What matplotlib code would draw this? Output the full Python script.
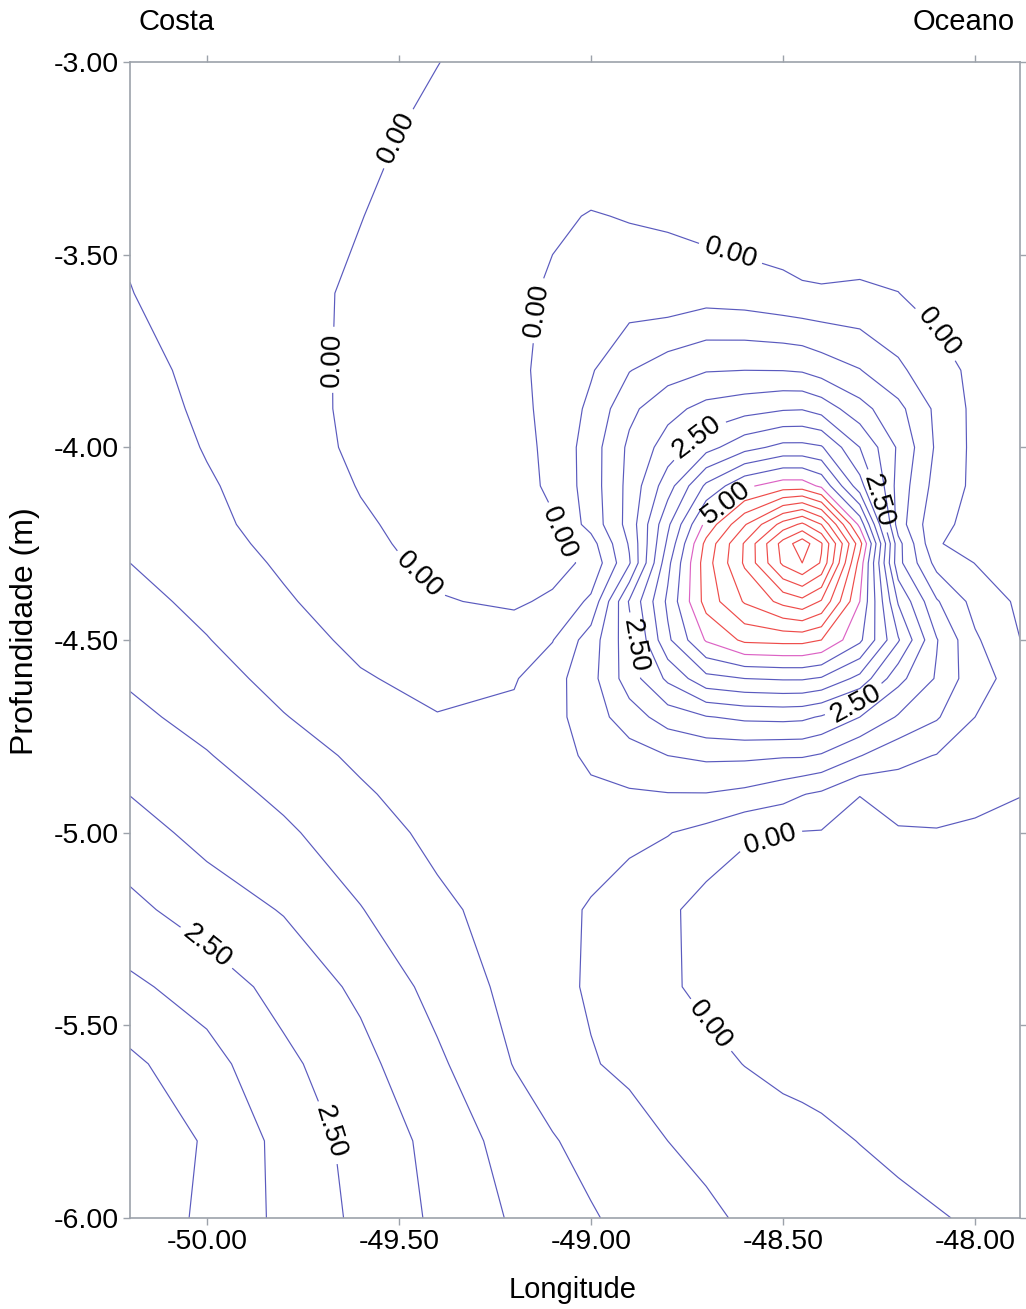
import numpy as np
import matplotlib
matplotlib.use("Agg")
import matplotlib.pyplot as plt

plt.rcParams['font.family'] = ['Liberation Sans', 'DejaVu Sans']

lon = [-50.2, -50.0, -49.8, -49.6, -49.4, -49.2, -49.1, -49.0, -48.9, -48.8,
       -48.7, -48.6, -48.5, -48.45, -48.4, -48.3, -48.2, -48.1, -48.0, -47.88]
depth = [-3.0, -3.2, -3.4, -3.6, -3.8, -3.9, -4.0, -4.1, -4.2, -4.25, -4.3,
         -4.4, -4.5, -4.6, -4.7, -4.8, -4.9, -5.0, -5.2, -5.4, -5.6, -5.8, -6.0]

# One row per depth (top to bottom), one value per longitude (left to right)
row_300 = [0.39, 0.29, 0.19, 0.10, 0.005, -0.12, -0.18, -0.20, -0.22, -0.24, -0.26, -0.27, -0.28, -0.285, -0.29, -0.30, -0.30, -0.30, -0.30, -0.30]
row_320 = [0.41, 0.29, 0.17, 0.06, -0.07, -0.18, -0.22, -0.24, -0.26, -0.28, -0.29, -0.30, -0.30, -0.30, -0.30, -0.30, -0.30, -0.30, -0.30, -0.30]
row_340 = [0.44, 0.30, 0.15, 0.01, -0.20, -0.15, -0.06, 0.02, -0.02, -0.04, -0.17, -0.26, -0.23, -0.20, -0.22, -0.23, -0.25, -0.28, -0.29, -0.30]
row_360 = [0.51, 0.32, 0.14, -0.07, -0.30, -0.10, 0.06, 0.20, 0.20, 0.15, 0.27, 0.22, 0.10, 0.04, 0.03, 0.05, 0.005, -0.15, -0.27, -0.30]
row_380 = [0.66, 0.37, 0.14, -0.08, -0.28, -0.12, 0.16, 0.45, 0.98, 1.27, 1.47, 1.50, 1.49, 1.45, 1.29, 1.02, 0.60, 0.17, -0.10, -0.22]
row_390 = [0.73, 0.41, 0.16, -0.09, -0.27, -0.12, 0.12, 0.61, 1.38, 1.84, 2.16, 2.31, 2.45, 2.47, 2.30, 1.68, 1.14, 0.39, -0.12, -0.22]
row_400 = [0.80, 0.47, 0.20, -0.08, -0.25, -0.12, 0.08, 0.76, 1.60, 2.22, 2.82, 3.33, 3.64, 3.64, 3.55, 2.50, 1.43, 0.42, -0.12, -0.22]
row_410 = [0.87, 0.55, 0.26, -0.02, -0.20, -0.15, 0.07, 0.75, 1.65, 2.77, 4.10, 4.90, 5.25, 5.25, 4.90, 3.20, 1.30, 0.30, -0.10, -0.22]
row_420 = [0.94, 0.60, 0.34, 0.05, -0.15, -0.10, -0.04, 0.68, 1.68, 3.40, 5.15, 6.45, 7.70, 8.10, 7.50, 4.85, 1.25, 0.07, -0.08, -0.20]
row_425 = [0.97, 0.66, 0.38, 0.09, -0.13, -0.12, -0.15, 0.30, 1.55, 3.60, 5.65, 7.05, 8.70, 9.30, 8.55, 5.70, 1.67, 0.01, -0.05, -0.18]
row_430 = [1.00, 0.72, 0.44, 0.15, -0.10, -0.12, -0.15, 0.10, 1.45, 3.86, 5.78, 7.07, 8.60, 9.00, 8.45, 5.30, 1.65, 0.33, -0.01, -0.15]
row_440 = [1.16, 0.87, 0.55, 0.28, 0.03, -0.06, 0.07, 0.60, 2.55, 4.10, 5.70, 6.55, 7.15, 7.35, 6.95, 5.00, 2.45, 1.05, 0.33, -0.10]
row_450 = [1.30, 1.02, 0.68, 0.40, 0.21, 0.21, 0.48, 1.25, 2.30, 3.90, 5.05, 5.60, 5.65, 5.65, 5.50, 4.60, 3.05, 1.53, 0.57, -0.01]
row_460 = [1.44, 1.17, 0.86, 0.54, 0.37, 0.46, 0.81, 1.33, 2.25, 3.10, 3.85, 4.00, 4.05, 4.05, 3.95, 3.35, 2.15, 1.45, 0.67, 0.30]
row_470 = [1.62, 1.33, 1.02, 0.75, 0.52, 0.60, 0.85, 1.25, 1.77, 2.22, 2.47, 2.60, 2.63, 2.60, 2.45, 2.00, 1.45, 1.05, 0.50, 0.30]
row_480 = [1.80, 1.53, 1.17, 0.93, 0.75, 0.70, 0.80, 1.10, 1.28, 1.50, 1.60, 1.60, 1.55, 1.55, 1.45, 1.02, 0.65, 0.48, 0.30, 0.20]
row_490 = [1.99, 1.71, 1.40, 1.05, 0.82, 0.72, 0.75, 0.90, 0.95, 0.98, 0.98, 0.88, 0.67, 0.52, 0.42, 0.01, 0.23, 0.22, 0.13, 0.01]
row_500 = [2.20, 1.85, 1.58, 1.22, 0.88, 0.78, 0.70, 0.65, 0.60, 0.52, 0.35, 0.06, 0.01, -0.02, -0.03, -0.15, -0.05, -0.03, -0.08, -0.13]
row_520 = [2.63, 2.25, 1.97, 1.52, 1.10, 0.80, 0.60, 0.47, 0.30, 0.10, -0.20, -0.25, -0.25, -0.25, -0.25, -0.25, -0.25, -0.25, -0.25, -0.25]
row_540 = [3.10, 2.78, 2.32, 1.90, 1.33, 0.85, 0.62, 0.45, 0.26, 0.06, -0.10, -0.20, -0.25, -0.26, -0.27, -0.28, -0.28, -0.28, -0.28, -0.28]
row_560 = [3.60, 3.18, 2.62, 2.15, 1.59, 0.98, 0.78, 0.53, 0.41, 0.27, 0.13, -0.01, -0.12, -0.14, -0.16, -0.20, -0.25, -0.28, -0.30, -0.30]
row_580 = [3.85, 3.45, 2.85, 2.32, 1.85, 1.27, 1.03, 0.86, 0.68, 0.50, 0.40, 0.29, 0.19, 0.14, 0.09, -0.01, -0.10, -0.18, -0.25, -0.30]
row_600 = [3.90, 3.38, 2.89, 2.39, 1.91, 1.44, 1.25, 1.04, 0.88, 0.72, 0.57, 0.45, 0.37, 0.33, 0.28, 0.20, 0.11, 0.03, -0.05, -0.15]

rows = [row_300, row_320, row_340, row_360, row_380, row_390, row_400, row_410,
        row_420, row_425, row_430, row_440, row_450, row_460, row_470, row_480,
        row_490, row_500, row_520, row_540, row_560, row_580, row_600]

levels = [0.0, 0.5, 1.0, 1.5, 2.0, 2.5, 3.0, 3.5, 4.0, 4.5, 5.0, 5.5, 6.0,
          6.5, 7.0, 7.5, 8.0, 8.5, 9.0]
labeled_levels = [0.0, 2.5, 5.0]

# Label anchor points (lon, depth)
label_pos = [(-49.497, -3.202), (-49.667, -3.773), (-49.458, -4.344),
             (-49.068, -4.215), (-49.146, -3.644), (-48.638, -3.501),
             (-48.117, -3.714), (-48.534, -5.014), (-48.703, -5.512),
             (-48.716, -3.981), (-48.247, -4.137), (-48.885, -4.513),
             (-48.313, -4.656), (-50.0, -5.297), (-49.698, -5.785),
             (-48.646, -4.145)]

xticks = [-50.0, -49.5, -49.0, -48.5, -48.0]
yticks = [-6.0, -5.5, -5.0, -4.5, -4.0, -3.5, -3.0]

LON, DEP = np.meshgrid(np.array(lon), np.array(depth[::-1]))
Z = np.array(rows)[::-1]


def level_color(lv):
    if lv < 5.0:
        return '#5a5abe'
    if lv == 5.0:
        return '#dc62c4'
    return '#ee4c4a'


fig = plt.figure(figsize=(10.26, 13.09), dpi=100)
ax = fig.add_axes([130 / 1026, 1 - 1218 / 1309, 890 / 1026, 1156 / 1309])
ax.set_xlim(-50.2, -47.883)
ax.set_ylim(-6.0, -3.0)

plain_levels = [lv for lv in levels if lv not in labeled_levels]
ax.contour(LON, DEP, Z, levels=plain_levels,
           colors=[level_color(lv) for lv in plain_levels], linewidths=0.85)
cs_lab = ax.contour(LON, DEP, Z, levels=labeled_levels,
                    colors=[level_color(lv) for lv in labeled_levels], linewidths=0.85)
ax.clabel(cs_lab, manual=label_pos, fmt='%.2f',
          fontsize=20, inline=True, inline_spacing=6, colors='black')

ax.set_xlim(-50.2, -47.883)
ax.set_ylim(-6.0, -3.0)
ax.set_xticks(xticks)
ax.set_xticklabels([f'{t:.2f}' for t in xticks])
ax.set_yticks(yticks)
ax.set_yticklabels([f'{t:.2f}' for t in yticks])
ax.tick_params(direction='out', length=5, width=1, color='#9ca2aa',
               labelsize=20.5, top=True, right=True, pad=3)
for sp in ax.spines.values():
    sp.set_color('#9ca2aa')
    sp.set_linewidth(1.2)

fig.text(573 / 1026, 1 - 1290 / 1309, 'Longitude', ha='center', va='center', fontsize=21)
fig.text(25 / 1026, 1 - 631 / 1309, 'Profundidade (m)', ha='center', va='center',
         rotation=90, fontsize=23)
fig.text(138 / 1026, 1 - 22 / 1309, 'Costa', ha='left', va='center', fontsize=21)
fig.text(1015 / 1026, 1 - 22 / 1309, 'Oceano', ha='right', va='center', fontsize=21)

fig.savefig('out.png', dpi=100, facecolor='white')
